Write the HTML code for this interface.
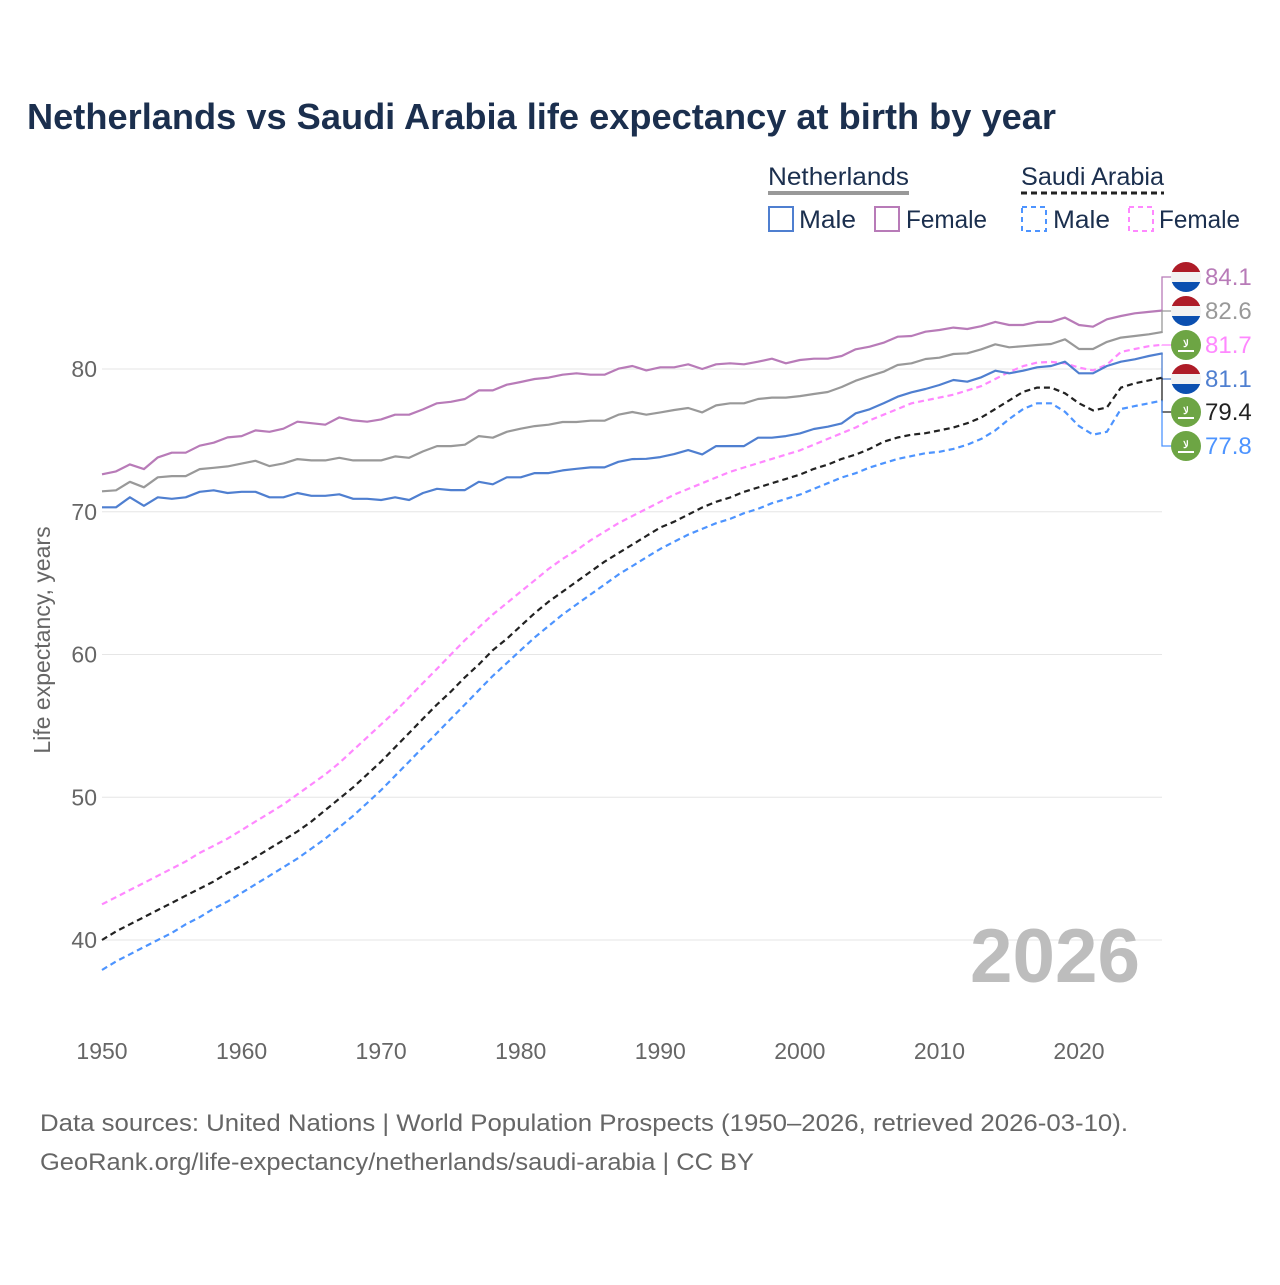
<!DOCTYPE html>
<html><head><meta charset="utf-8"><style>
body{margin:0;background:#fff;font-family:"Liberation Sans",sans-serif}
svg text{font-family:"Liberation Sans",sans-serif}
</style></head><body>
<svg id="chart" width="1280" height="1280" viewBox="0 0 1280 1280" xmlns="http://www.w3.org/2000/svg">
<rect width="1280" height="1280" fill="#fff"/>
<text x="27" y="129" font-size="36" font-weight="bold" fill="#1b2f4e" textLength="1029" lengthAdjust="spacingAndGlyphs">Netherlands vs Saudi Arabia life expectancy at birth by year</text>
<g font-size="25" fill="#1b2f4e">
 <text x="768" y="185" fill="#1b2f4e" textLength="141" lengthAdjust="spacingAndGlyphs">Netherlands</text>
 <line x1="768" y1="193" x2="909" y2="193" stroke="#999" stroke-width="4"/>
 <text x="1021" y="185" fill="#1b2f4e" textLength="143" lengthAdjust="spacingAndGlyphs">Saudi Arabia</text>
 <line x1="1021" y1="193" x2="1164" y2="193" stroke="#222" stroke-width="3" stroke-dasharray="6,4"/>
 <g><rect x="769" y="207" width="24" height="24" fill="none" stroke="#4f7fd0" stroke-width="2"/><text x="799" y="228" textLength="57" lengthAdjust="spacingAndGlyphs">Male</text></g>
 <g><rect x="875" y="207" width="24" height="24" fill="none" stroke="#b87bb8" stroke-width="2"/><text x="906" y="228" textLength="81" lengthAdjust="spacingAndGlyphs">Female</text></g>
 <g><rect x="1022" y="207" width="24" height="24" fill="none" stroke="#4d94ff" stroke-width="2" stroke-dasharray="5,4"/><text x="1053" y="228" textLength="57" lengthAdjust="spacingAndGlyphs">Male</text></g>
 <g><rect x="1129" y="207" width="24" height="24" fill="none" stroke="#ff88ff" stroke-width="2" stroke-dasharray="5,4"/><text x="1159" y="228" textLength="81" lengthAdjust="spacingAndGlyphs">Female</text></g>
</g>
<g id="grid"></g><g id="series"></g><g id="labels"></g>
<text transform="translate(50,640) rotate(-90)" text-anchor="middle" font-size="23" fill="#666">Life expectancy, years</text>
<text x="1140" y="982" text-anchor="end" font-size="76" font-weight="bold" fill="#bdbdbd" textLength="170" lengthAdjust="spacingAndGlyphs">2026</text>
<text x="40" y="1131" font-size="24" fill="#666" textLength="1088" lengthAdjust="spacingAndGlyphs">Data sources: United Nations | World Population Prospects (1950–2026, retrieved 2026-03-10).</text>
<text x="40" y="1170" font-size="24" fill="#666" textLength="714" lengthAdjust="spacingAndGlyphs">GeoRank.org/life-expectancy/netherlands/saudi-arabia | CC BY</text>
</svg>
<script>
const startYear = 1950;
const xTicks = [1950,1960,1970,1980,1990,2000,2010,2020];
const yTicks = [40,50,60,70,80];
const nlMale = [70.31,70.31,71.01,70.42,71.01,70.91,71.01,71.4,71.5,71.31,71.4,71.4,71.01,71.01,71.31,71.12,71.12,71.22,70.91,70.91,70.82,71.01,70.82,71.31,71.61,71.52,71.52,72.1,71.92,72.41,72.41,72.71,72.71,72.9,73.01,73.11,73.11,73.5,73.69,73.71,73.83,74.04,74.32,74.02,74.6,74.6,74.6,75.19,75.19,75.3,75.49,75.8,75.96,76.19,76.9,77.18,77.6,78.06,78.37,78.6,78.88,79.23,79.11,79.42,79.88,79.7,79.88,80.12,80.21,80.51,79.7,79.7,80.21,80.51,80.68,80.91,81.1];
const nlFemale = [72.62,72.83,73.32,72.99,73.81,74.14,74.14,74.63,74.84,75.21,75.3,75.7,75.6,75.82,76.31,76.2,76.1,76.61,76.4,76.31,76.47,76.8,76.8,77.17,77.6,77.7,77.9,78.5,78.5,78.9,79.09,79.3,79.4,79.6,79.7,79.6,79.6,80.02,80.21,79.9,80.12,80.12,80.33,80.0,80.33,80.4,80.33,80.51,80.72,80.4,80.63,80.72,80.72,80.91,81.38,81.56,81.84,82.26,82.31,82.61,82.73,82.9,82.8,83.0,83.3,83.08,83.08,83.3,83.3,83.6,83.08,82.96,83.48,83.71,83.9,84.0,84.1];
const nlTotal = [71.43,71.5,72.1,71.71,72.41,72.5,72.5,72.99,73.08,73.18,73.37,73.57,73.2,73.39,73.69,73.6,73.6,73.78,73.6,73.6,73.6,73.88,73.78,74.23,74.6,74.6,74.7,75.3,75.19,75.6,75.82,76.0,76.1,76.29,76.29,76.38,76.38,76.8,76.99,76.8,76.96,77.13,77.27,76.96,77.45,77.6,77.6,77.9,78.0,78.0,78.1,78.25,78.39,78.74,79.18,79.5,79.81,80.28,80.4,80.7,80.79,81.05,81.1,81.38,81.73,81.52,81.6,81.68,81.75,82.08,81.4,81.4,81.9,82.2,82.31,82.43,82.6];
const saMale = [37.9,38.5,39.0,39.5,40.0,40.5,41.1,41.6,42.2,42.7,43.3,43.9,44.5,45.1,45.7,46.4,47.1,47.9,48.7,49.6,50.5,51.5,52.5,53.5,54.5,55.5,56.5,57.5,58.5,59.4,60.3,61.2,62.0,62.8,63.5,64.2,64.9,65.6,66.2,66.8,67.4,67.9,68.4,68.8,69.2,69.5,69.9,70.2,70.6,70.9,71.2,71.6,72.0,72.4,72.7,73.1,73.4,73.7,73.9,74.1,74.2,74.4,74.7,75.1,75.7,76.5,77.2,77.6,77.6,77.0,76.0,75.4,75.6,77.2,77.4,77.6,77.8];
const saFemale = [42.5,43.0,43.5,44.0,44.5,45.0,45.5,46.1,46.6,47.1,47.7,48.3,48.9,49.5,50.2,50.9,51.6,52.4,53.3,54.2,55.1,56.0,57.0,58.0,59.0,60.0,61.0,61.9,62.8,63.6,64.4,65.2,66.0,66.7,67.3,68.0,68.6,69.2,69.7,70.2,70.7,71.2,71.6,72.0,72.4,72.8,73.1,73.4,73.7,74.0,74.3,74.7,75.1,75.5,75.9,76.4,76.8,77.2,77.6,77.8,78.0,78.2,78.5,78.8,79.3,79.8,80.2,80.45,80.5,80.4,80.1,79.9,80.3,81.2,81.4,81.6,81.7];
const saTotal = [40.0,40.6,41.1,41.6,42.1,42.6,43.1,43.6,44.1,44.7,45.2,45.8,46.4,47.0,47.6,48.3,49.1,49.9,50.7,51.6,52.5,53.5,54.5,55.5,56.5,57.4,58.4,59.3,60.3,61.1,62.0,62.9,63.7,64.4,65.1,65.8,66.5,67.1,67.7,68.3,68.9,69.3,69.8,70.3,70.7,71.0,71.4,71.7,72.0,72.3,72.6,73.0,73.3,73.7,74.0,74.4,74.9,75.2,75.4,75.5,75.7,75.9,76.2,76.6,77.2,77.8,78.4,78.7,78.7,78.3,77.6,77.1,77.3,78.7,79.0,79.2,79.4];

const NS="http://www.w3.org/2000/svg";
const X=y=>102+(y-1950)*(1079-102)/70;
const Y=v=>369+(80-v)*(940-369)/40;
function mk(tag,attrs,parent){const e=document.createElementNS(NS,tag);for(const k in attrs)e.setAttribute(k,attrs[k]);parent.appendChild(e);return e;}
const grid=document.getElementById('grid');
yTicks.forEach(t=>{
  const l=mk('line',{x1:102,x2:1162,y1:Y(t),y2:Y(t),stroke:'#e6e6e6','stroke-width':1},grid);
  
  
  const tx=mk('text',{x:97,y:Y(t)+8,'text-anchor':'end','font-size':23,fill:'#666'},grid);
  tx.textContent=t;
  
  
});
xTicks.forEach(t=>{
  const tx=mk('text',{x:X(t),y:1059,'text-anchor':'middle','font-size':23,fill:'#666'},grid);
  tx.textContent=t;
  
  
});
const ser=document.getElementById('series');
const defs=[
 ['line-saudi-female',saFemale,'#ff88ff',true],
 ['line-saudi-male',saMale,'#4d94ff',true],
 ['line-saudi-total',saTotal,'#222',true],
 ['line-netherlands-male',nlMale,'#4f7fd0',false],
 ['line-netherlands-total',nlTotal,'#999',false],
 ['line-netherlands-female',nlFemale,'#b87bb8',false]];
defs.forEach(([name,arr,col,dash])=>{
  const pts=arr.map((v,i)=>X(startYear+i).toFixed(1)+','+Y(v).toFixed(1)).join(' ');
  const p=mk('polyline',{points:pts,fill:'none',stroke:col,'stroke-width':2.2,'stroke-linejoin':'round'},ser);
  if(dash)p.setAttribute('stroke-dasharray','6,4');
  
  
});
const lab=document.getElementById('labels');
const ends=[
 [nlFemale,'#b87bb8','nl',277],
 [nlTotal,'#999','nl',311],
 [saFemale,'#ff88ff','sa',345],
 [nlMale,'#4f7fd0','nl',379],
 [saTotal,'#222','sa',412],
 [saMale,'#4d94ff','sa',446]];
ends.forEach(([arr,col,fl,ly])=>{
  const v=arr[arr.length-1];
  const ey=Y(v);
  const g=mk('g',{},lab);
  
  
  mk('path',{d:`M1162 ${ey.toFixed(1)} L1162 ${ly} L1172 ${ly}`,fill:'none',stroke:col,'stroke-width':1.3},g);
  if(fl==='nl'){
    const cid='c'+ly;
    const cp=mk('clipPath',{id:cid},g);mk('circle',{cx:1186,cy:ly,r:15},cp);
    const fg=mk('g',{'clip-path':`url(#${cid})`},g);
    mk('rect',{x:1171,y:ly-15,width:30,height:10,fill:'#ae1c28'},fg);
    mk('rect',{x:1171,y:ly-5,width:30,height:10,fill:'#f2f2f2'},fg);
    mk('rect',{x:1171,y:ly+5,width:30,height:10,fill:'#0b4fb0'},fg);
  } else {
    mk('circle',{cx:1186,cy:ly,r:15,fill:'#6da544'},g);
    const t=mk('text',{x:1186,y:ly+2,'text-anchor':'middle','font-size':10,'font-weight':'bold',fill:'#fff'},g);
    t.textContent='لا';
    mk('line',{x1:1178,x2:1194,y1:ly+6,y2:ly+6,stroke:'#fff','stroke-width':2},g);
  }
  const t=mk('text',{x:1205,y:ly+8,'font-size':24,fill:col},g);
  t.textContent=v.toFixed(1);
});
</script>
</body></html>
